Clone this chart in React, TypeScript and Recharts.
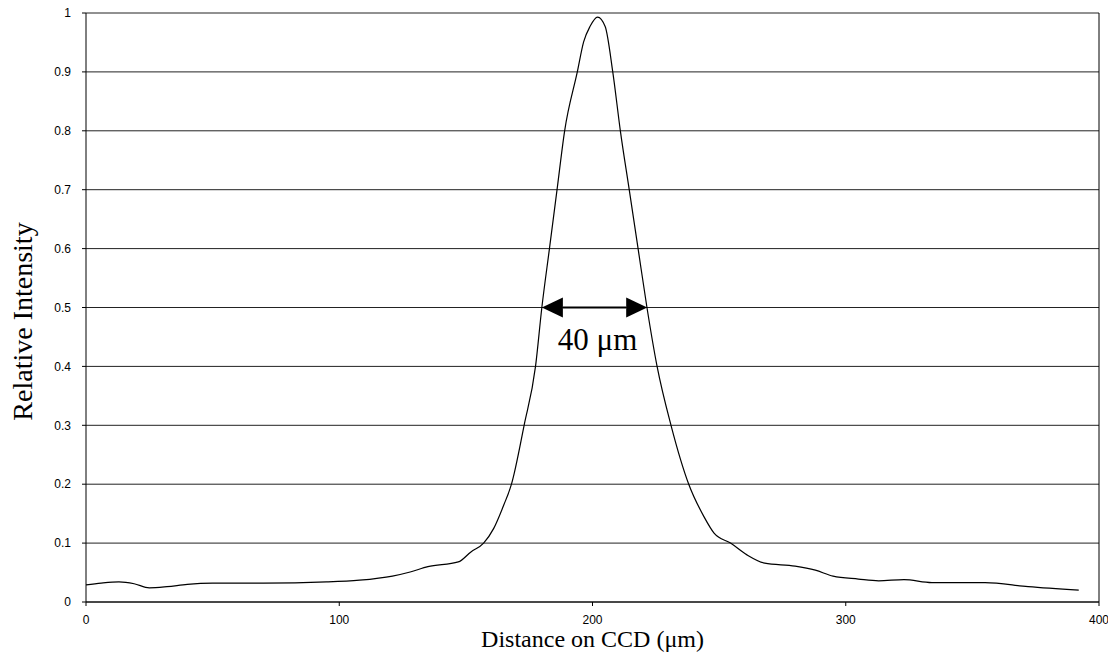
import React from 'react';
import {
  LineChart,
  Line,
  XAxis,
  YAxis,
  CartesianGrid,
  ReferenceLine,
} from 'recharts';

// distance on the CCD in µm
const distance = [
  0, 6, 13, 19, 25, 32, 40, 50, 70, 95, 108, 121, 128, 135, 147, 152, 157, 161,
  165, 168, 173, 177.5, 180, 183, 186, 189, 194, 196.5, 199, 202, 205, 208, 211,
  214.5, 218, 221.5, 225.5, 231, 238, 244, 248, 254.5, 261, 268, 280, 288, 295,
  305, 313, 323, 334, 355, 372, 392,
];

// relative intensity at each distance
const intensity = [
  0.029, 0.032, 0.034, 0.031, 0.024, 0.026, 0.03, 0.032, 0.032, 0.034, 0.037,
  0.044, 0.051, 0.06, 0.068, 0.085, 0.1, 0.125, 0.165, 0.2, 0.3, 0.4, 0.5, 0.6,
  0.7, 0.8, 0.9, 0.951, 0.977, 0.993, 0.977, 0.9, 0.8, 0.7, 0.6, 0.5, 0.4, 0.3,
  0.2, 0.145, 0.117, 0.1, 0.08, 0.066, 0.061, 0.054, 0.044, 0.039, 0.036, 0.038,
  0.033, 0.033, 0.026, 0.02,
];

const xTicks = [0, 100, 200, 300, 400];
const yTicks = [0, 0.1, 0.2, 0.3, 0.4, 0.5, 0.6, 0.7, 0.8, 0.9, 1];

// FWHM marker
const fwhmStart = 180;
const fwhmEnd = 221.6;
const fwhmLevel = 0.5;
const fwhmText = '40 μm';

const data = distance.map((d, i) => ({ d, v: intensity[i] }));

const tickStyle = { fontFamily: '"Liberation Sans", Arial, sans-serif', fontSize: 12, fill: '#000' };
const serif = '"Liberation Serif", "Times New Roman", serif';

function FwhmArrow(props: any) {
  const { x1, y1, x2 } = props;
  const head = 21;
  const half = 10;
  const mid = (x1 + x2) / 2;
  return (
    <g>
      <line x1={x1 + head} y1={y1} x2={x2 - head} y2={y1} stroke="#000" strokeWidth={2} />
      <polygon points={`${x1},${y1} ${x1 + head},${y1 - half} ${x1 + head},${y1 + half}`} fill="#000" />
      <polygon points={`${x2},${y1} ${x2 - head},${y1 - half} ${x2 - head},${y1 + half}`} fill="#000" />
      <text x={mid + 3} y={y1 + 42} textAnchor="middle" fontFamily={serif} fontSize={31} fill="#000">
        {fwhmText}
      </text>
    </g>
  );
}

function YLabel(props: any) {
  const { viewBox } = props;
  const cx = 22;
  const cy = viewBox.y + viewBox.height / 2 + 14;
  return (
    <text
      x={cx}
      y={cy}
      transform={`rotate(-90, ${cx}, ${cy})`}
      textAnchor="middle"
      dominantBaseline="central"
      fontFamily={serif}
      fontSize={28}
      fill="#000"
    >
      Relative Intensity
    </text>
  );
}

export default function App() {
  return (
    <div style={{ position: 'absolute', left: 0, top: 0, background: '#fff' }}>
      <LineChart width={1108} height={659} data={data} margin={{ top: 13, right: 9, left: 0, bottom: 0 }}>
        <CartesianGrid vertical={false} stroke="#222" strokeWidth={1} />
        <XAxis
          dataKey="d"
          type="number"
          domain={[0, 400]}
          ticks={xTicks}
          height={57}
          tick={tickStyle}
          tickSize={4}
          tickMargin={9}
          stroke="#000"
          label={{
            value: 'Distance on CCD (μm)',
            position: 'insideBottom',
            offset: 12,
            style: { fontFamily: serif, fontSize: 24, fill: '#000' },
          }}
        />
        <YAxis
          type="number"
          domain={[0, 1]}
          ticks={yTicks}
          width={86}
          tick={tickStyle}
          tickSize={4}
          tickMargin={11}
          stroke="#000"
          label={<YLabel />}
        />
        <ReferenceLine x={400} stroke="#000" strokeWidth={1} />
        <ReferenceLine
          segment={[
            { x: fwhmStart, y: fwhmLevel },
            { x: fwhmEnd, y: fwhmLevel },
          ]}
          shape={<FwhmArrow />}
        />
        <Line
          dataKey="v"
          type="monotone"
          stroke="#000"
          strokeWidth={1.2}
          dot={false}
          isAnimationActive={false}
        />
      </LineChart>
    </div>
  );
}
